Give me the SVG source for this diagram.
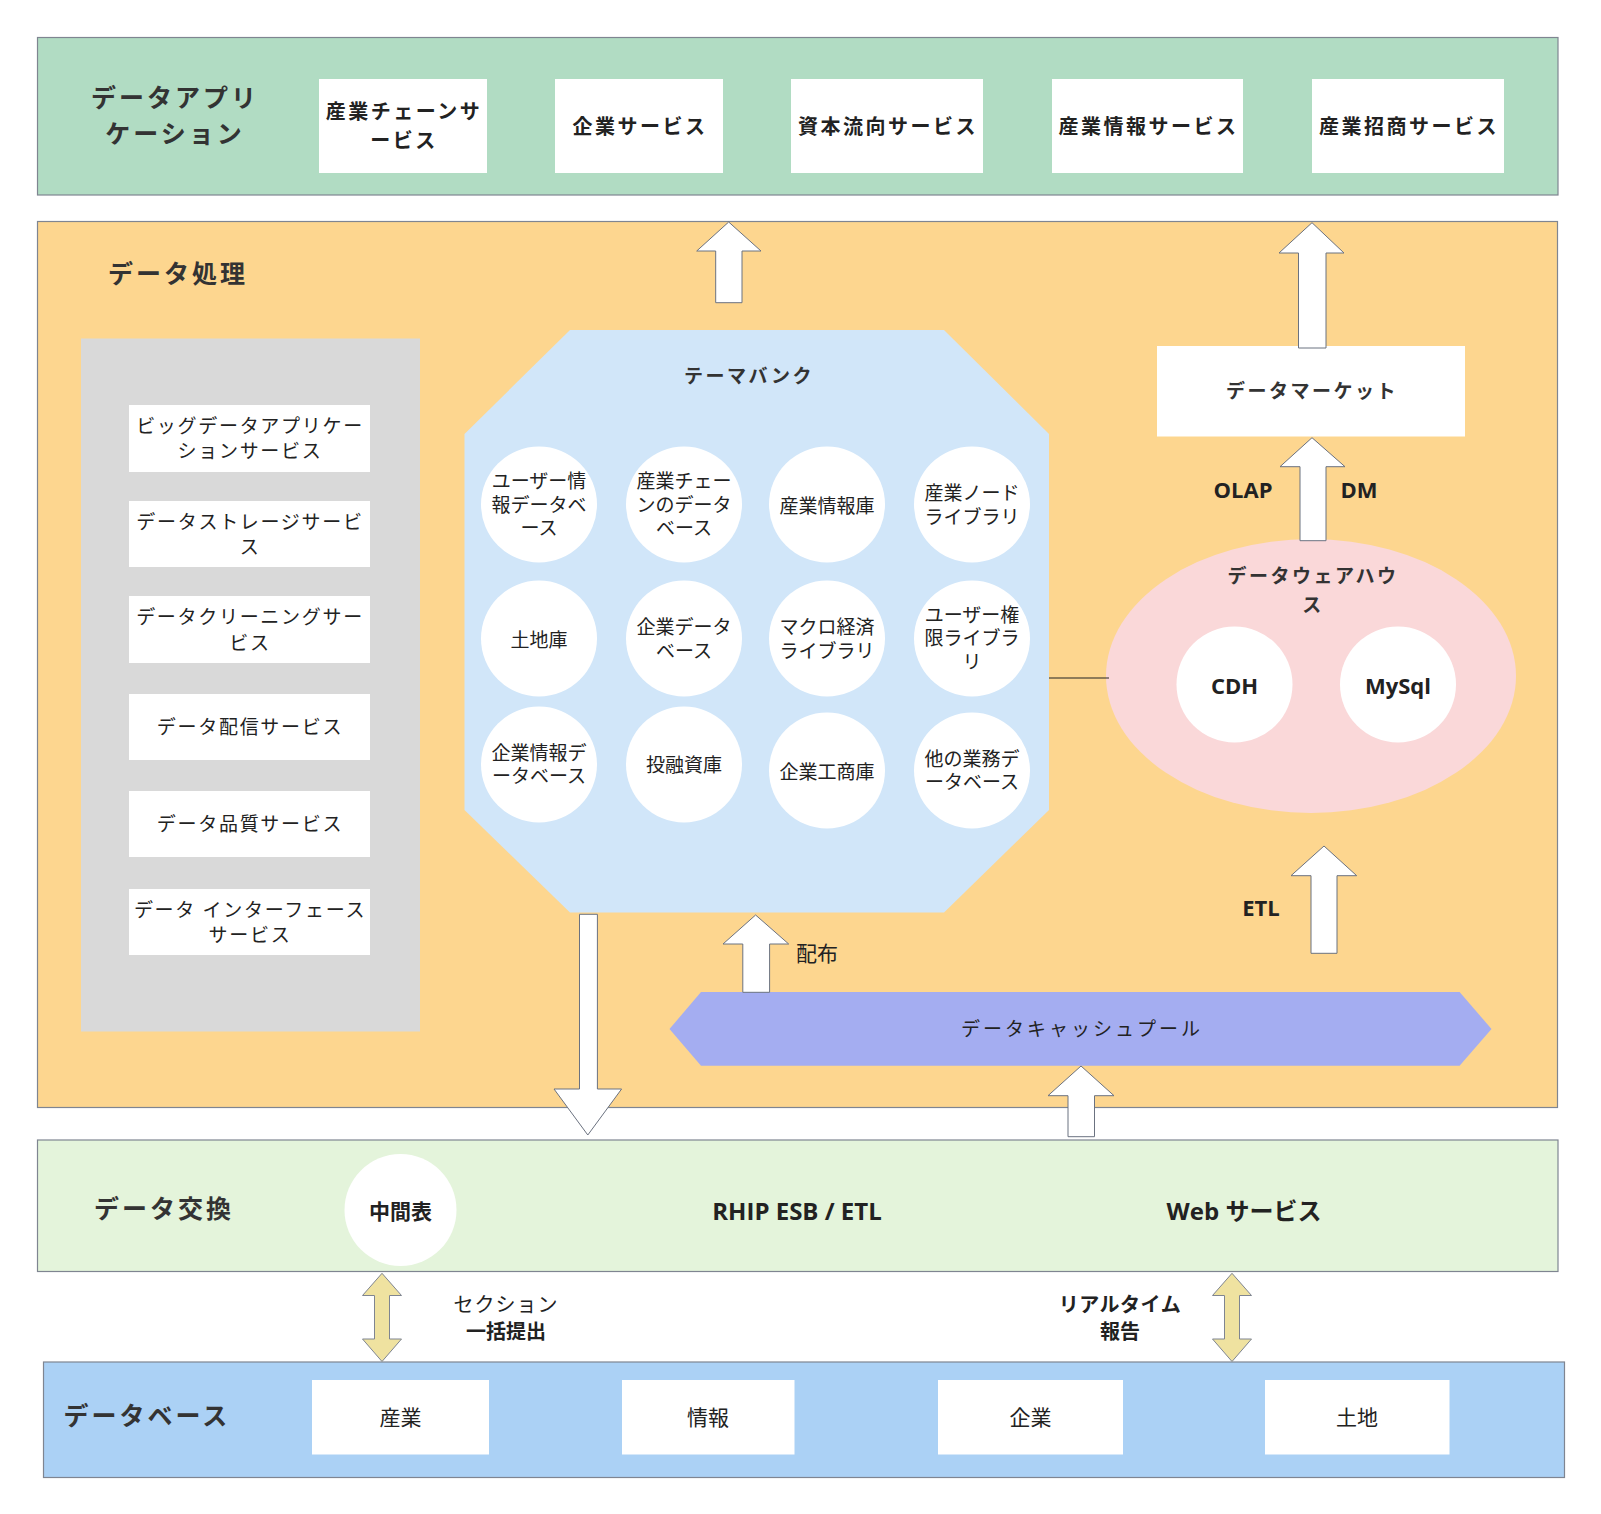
<svg xmlns="http://www.w3.org/2000/svg" width="1601" height="1514" viewBox="0 0 1601 1514">
<style>
text{font-family:"Open Sans","Noto Sans CJK JP",sans-serif;fill:#222;text-anchor:middle;dominant-baseline:central}
.band{stroke:#7f8591;stroke-width:1.2}
.title{font-size:25px;font-weight:bold;letter-spacing:3px;fill:#333}
.appbox{fill:#fff}
.apptxt{font-size:20px;font-weight:bold;letter-spacing:2.5px}
.svc{font-size:19px;letter-spacing:1.7px}
.cir{fill:#fff}
.ct{font-size:19px}
.bl{font-size:19px;font-weight:bold;letter-spacing:2.5px;fill:#333}
.lat{font-size:22px;font-weight:bold}
.arrow{fill:#fff;stroke:#6b7280;stroke-width:1}
.darrow{fill:#efe2a0;stroke:#7f8591;stroke-width:1}
.dbtxt{font-size:21px}
</style>

<g id="band-apps">
<rect class="band" x="37.5" y="37.5" width="1520.5" height="157.5" fill="#b1dcc3"/>
<text class="title" x="175" y="97">データアプリ</text>
<text class="title" x="175" y="133">ケーション</text>
</g>
<g id="app1"><rect class="appbox" x="319" y="79" width="168" height="94"/><text class="apptxt" x="404" y="111.5">産業チェーンサ</text><text class="apptxt" x="404" y="140">ービス</text></g>
<g id="app2"><rect class="appbox" x="555" y="79" width="168" height="94"/><text class="apptxt" x="640" y="126">企業サービス</text></g>
<g id="app3"><rect class="appbox" x="791" y="79" width="192" height="94"/><text class="apptxt" x="888" y="126">資本流向サービス</text></g>
<g id="app4"><rect class="appbox" x="1052" y="79" width="191" height="94"/><text class="apptxt" x="1148.5" y="126">産業情報サービス</text></g>
<g id="app5"><rect class="appbox" x="1312" y="79" width="192" height="94"/><text class="apptxt" x="1409" y="126">産業招商サービス</text></g>

<g id="band-processing">
<rect class="band" x="37.5" y="221.5" width="1520" height="886" fill="#fdd68f"/>
<text class="title" x="178" y="273">データ処理</text>
</g>

<g id="services-panel">
<rect x="81" y="338.5" width="339" height="693" fill="#d9d9d9"/>
</g>
<g id="svc1"><rect fill="#fff" x="129" y="405" width="241" height="67"/><text class="svc" x="250" y="425.5">ビッグデータアプリケー</text><text class="svc" x="250" y="451">ションサービス</text></g>
<g id="svc2"><rect fill="#fff" x="129" y="501" width="241" height="66"/><text class="svc" x="250" y="521.5">データストレージサービ</text><text class="svc" x="250" y="547">ス</text></g>
<g id="svc3"><rect fill="#fff" x="129" y="596" width="241" height="67"/><text class="svc" x="250" y="617">データクリーニングサー</text><text class="svc" x="250" y="642.5">ビス</text></g>
<g id="svc4"><rect fill="#fff" x="129" y="694" width="241" height="66"/><text class="svc" x="250" y="727">データ配信サービス</text></g>
<g id="svc5"><rect fill="#fff" x="129" y="791" width="241" height="66"/><text class="svc" x="250" y="824">データ品質サービス</text></g>
<g id="svc6"><rect fill="#fff" x="129" y="889" width="241" height="66"/><text class="svc" x="250" y="909.5">データ インターフェース</text><text class="svc" x="250" y="935">サービス</text></g>

<g id="theme-bank">
<polygon points="570,330 944,330 1049,434 1049,810 944,912.5 570,912.5 464.5,810 464.5,434" fill="#d1e6f9"/>
<text class="bl" x="749" y="375.5">テーマバンク</text>
</g>
<g id="c1"><circle class="cir" cx="539" cy="504.5" r="58"/><text class="ct" x="539" y="481">ユーザー情</text><text class="ct" x="539" y="504.5">報データベ</text><text class="ct" x="539" y="528">ース</text></g>
<g id="c2"><circle class="cir" cx="684" cy="504.5" r="58"/><text class="ct" x="684" y="481">産業チェー</text><text class="ct" x="684" y="504.5">ンのデータ</text><text class="ct" x="684" y="528">ベース</text></g>
<g id="c3"><circle class="cir" cx="827" cy="504.5" r="58"/><text class="ct" x="827" y="505.5">産業情報庫</text></g>
<g id="c4"><circle class="cir" cx="972" cy="504.5" r="58"/><text class="ct" x="972" y="493">産業ノード</text><text class="ct" x="972" y="516.5">ライブラリ</text></g>
<g id="c5"><circle class="cir" cx="539" cy="638.5" r="58"/><text class="ct" x="539" y="639.5">土地庫</text></g>
<g id="c6"><circle class="cir" cx="684" cy="638.5" r="58"/><text class="ct" x="684" y="627">企業データ</text><text class="ct" x="684" y="650.5">ベース</text></g>
<g id="c7"><circle class="cir" cx="827" cy="638.5" r="58"/><text class="ct" x="827" y="627">マクロ経済</text><text class="ct" x="827" y="650.5">ライブラリ</text></g>
<g id="c8"><circle class="cir" cx="972" cy="638.5" r="58"/><text class="ct" x="972" y="614.5">ユーザー権</text><text class="ct" x="972" y="638">限ライブラ</text><text class="ct" x="972" y="661.5">リ</text></g>
<g id="c9"><circle class="cir" cx="539" cy="764.5" r="58"/><text class="ct" x="539" y="752.5">企業情報デ</text><text class="ct" x="539" y="776">ータベース</text></g>
<g id="c10"><circle class="cir" cx="684" cy="764.5" r="58"/><text class="ct" x="684" y="765">投融資庫</text></g>
<g id="c11"><circle class="cir" cx="827" cy="770.5" r="58"/><text class="ct" x="827" y="771.5">企業工商庫</text></g>
<g id="c12"><circle class="cir" cx="972" cy="770.5" r="58"/><text class="ct" x="972" y="758.5">他の業務デ</text><text class="ct" x="972" y="782">ータベース</text></g>

<g id="data-market"><rect fill="#fff" x="1157" y="346" width="308" height="90.5"/><text class="bl" x="1312" y="390.5">データマーケット</text></g>

<g id="warehouse">
<ellipse cx="1311" cy="676" rx="205" ry="137" fill="#fad8d9"/>
<text class="bl" x="1313" y="576">データウェアハウ</text>
<text class="bl" x="1313" y="605">ス</text>
</g>
<g id="cdh"><circle class="cir" cx="1234.5" cy="684.5" r="58"/><text class="lat" x="1234.5" y="685">CDH</text></g>
<g id="mysql"><circle class="cir" cx="1398" cy="684.5" r="58"/><text class="lat" x="1398" y="685">MySql</text></g>

<g id="cache-pool">
<polygon points="669.5,1029 701,992 1459.6,992 1491.5,1029 1459.6,1065.7 701,1065.7" fill="#a4adf1"/>
<text x="1082" y="1029" style="font-size:19px;letter-spacing:3px">データキャッシュプール</text>
</g>

<g id="band-exchange">
<rect class="band" x="37.5" y="1140" width="1520.5" height="131.5" fill="#e4f4db"/>
<text class="title" x="164" y="1208">データ交換</text>
<text x="797" y="1210.5" style="font-size:24px;font-weight:bold">RHIP ESB / ETL</text>
<text x="1244" y="1210.5" style="font-size:24px;font-weight:bold">Web サービス</text>
</g>
<g id="intermediate"><circle class="cir" cx="400.5" cy="1210" r="56"/><text x="400.5" y="1211" style="font-size:21px;font-weight:bold">中間表</text></g>

<g id="band-database">
<rect class="band" x="43.5" y="1362" width="1521" height="115.5" fill="#abd1f5"/>
<text class="title" x="147" y="1415">データベース</text>
</g>
<g id="db1"><rect fill="#fff" x="312" y="1380" width="177" height="74.5"/><text class="dbtxt" x="400.5" y="1417">産業</text></g>
<g id="db2"><rect fill="#fff" x="622" y="1380" width="172.5" height="74.5"/><text class="dbtxt" x="708" y="1417">情報</text></g>
<g id="db3"><rect fill="#fff" x="938" y="1380" width="185" height="74.5"/><text class="dbtxt" x="1030.5" y="1417">企業</text></g>
<g id="db4"><rect fill="#fff" x="1265" y="1380" width="184.5" height="74.5"/><text class="dbtxt" x="1357" y="1417">土地</text></g>

<g id="connectors">
<line x1="1049" y1="678" x2="1109" y2="678" stroke="#222" stroke-width="1.2"/>
<polygon class="arrow" points="728.7,222 761,251 742,251 742,302.7 715.7,302.7 715.7,251 696.7,251"/>
<polygon class="arrow" points="1312,222.7 1344,253 1326,253 1326,348 1298.5,348 1298.5,253 1279,253"/>
<polygon class="arrow" points="1312,437.7 1345,466.7 1326,466.7 1326,540.7 1300,540.7 1300,466.7 1280,466.7"/>
<polygon class="arrow" points="1324,846 1356.7,875.7 1337,875.7 1337,953.3 1311,953.3 1311,875.7 1291,875.7"/>
<polygon class="arrow" points="755.6,915 788.7,944 769.6,944 769.6,992.3 742.8,992.3 742.8,944 723,944"/>
<polygon class="arrow" points="579.5,914.3 597.4,914.3 597.4,1089 621.6,1089 587.8,1135 554,1089 579.5,1089"/>
<polygon class="arrow" points="1081,1066 1114,1095.7 1094.5,1095.7 1094.5,1136.7 1068,1136.7 1068,1095.7 1048,1095.7"/>
<polygon class="darrow" points="382,1273.3 401.5,1295.5 389.5,1295.5 389.5,1339 401.5,1339 382,1361.5 362.5,1339 374.5,1339 374.5,1295.5 362.5,1295.5"/>
<polygon class="darrow" points="1232,1273.3 1251.5,1295.5 1239.5,1295.5 1239.5,1339 1251.5,1339 1232,1361.5 1212.5,1339 1224.5,1339 1224.5,1295.5 1212.5,1295.5"/>
<text x="817" y="953" style="font-size:21px">配布</text>
<text x="1243" y="489" class="lat">OLAP</text>
<text x="1359" y="489" class="lat">DM</text>
<text x="1261" y="907" class="lat">ETL</text>
<text x="506" y="1304.5" style="font-size:20px;letter-spacing:1px">セクション</text>
<text x="506" y="1331" style="font-size:20px;font-weight:bold">一括提出</text>
<text x="1120" y="1304.5" style="font-size:20px;font-weight:bold;letter-spacing:0.5px">リアルタイム</text>
<text x="1120" y="1331" style="font-size:20px;font-weight:bold">報告</text>
</g>
</svg>
